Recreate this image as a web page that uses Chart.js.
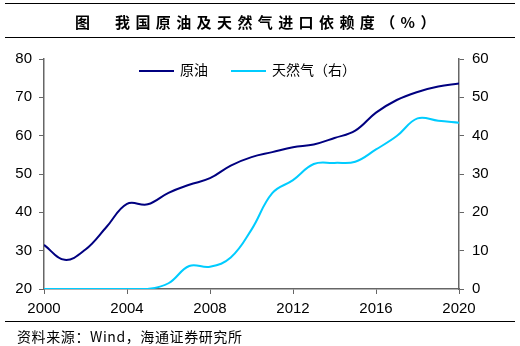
<!DOCTYPE html>
<html>
<head>
<meta charset="utf-8">
<script src="https://cdn.jsdelivr.net/npm/chart.js@4/dist/chart.umd.min.js"></script>
<style>
  body { margin: 0; background: #fff; }
  #wrap { position: relative; width: 520px; height: 346px; overflow: hidden; }
  #c { position: absolute; left: 0; top: 0; }
  .title {
    position: absolute; left: 5px; top: 3px; width: 510px; height: 33px;
    border-top: 1px solid #000; border-bottom: 1px solid #000;
    font: bold 15px "Noto Sans CJK SC", sans-serif; color: #000;
  }
  .title span { position: absolute; top: 7px; letter-spacing: 5.4px; white-space: nowrap; }
  .source {
    position: absolute; left: 5px; top: 321px; width: 510px; border-top: 1px solid #000;
  }
  .source span {
    position: absolute; left: 12px; top: 4px; white-space: nowrap;
    font: 14px "Noto Sans CJK SC", sans-serif; letter-spacing: 0.6px; color: #000;
  }
  .legend { position: absolute; top: 59px; font: 14px "Noto Sans CJK SC", sans-serif; white-space: nowrap; }
  .legend i { display: inline-block; width: 35px; height: 2px; vertical-align: middle; margin-right: 6px; }
</style>
</head>
<body>
<div id="wrap">
  <canvas id="c" width="520" height="346"></canvas>
  <div class="title"><span style="left:70px">图</span><span style="left:110px">我国原油及天然气进口依赖度（%）</span></div>
  <div class="legend" style="left:139px"><i style="background:#000080"></i>原油</div>
  <div class="legend" style="left:231px"><i style="background:#00ccff"></i>天然气（右）</div>
  <div class="source"><span>资料来源：Wind，海通证券研究所</span></div>
</div>
<script>
// 年份与数据
const years = [2000, 2001, 2002, 2003, 2004, 2005, 2006, 2007, 2008, 2009, 2010,
               2011, 2012, 2013, 2014, 2015, 2016, 2017, 2018, 2019, 2020];
const crudeOil = [31.5, 27.6, 30.3, 36.1, 42.2, 42.1, 45.1, 47.2, 48.9, 52.2, 54.4,
                  55.7, 57.0, 57.7, 59.4, 61.3, 66.0, 69.3, 71.4, 72.8, 73.6];
const naturalGas = [0, 0, 0, 0, 0, 0, 1.5, 6.0, 5.8, 8.2, 15.5,
                    25.0, 28.4, 32.6, 32.9, 33.2, 36.4, 39.9, 44.5, 43.9, 43.4];
const leftTicks = { min: 20, max: 80, step: 10 };
const rightTicks = { min: 0, max: 60, step: 10 };

const axisColor = '#666666';
const tickFont = { family: '"Liberation Sans", Arial, sans-serif', size: 15 };

new Chart(document.getElementById('c'), {
    type: 'line',
    data: {
        datasets: [
            {
                label: '原油',
                data: years.map((y, i) => ({ x: y, y: crudeOil[i] })),
                borderColor: '#000080',
                borderWidth: 2,
                pointRadius: 0,
                tension: 0.4,
                yAxisID: 'y'
            },
            {
                label: '天然气（右）',
                data: years.map((y, i) => ({ x: y, y: naturalGas[i] })),
                borderColor: '#00ccff',
                borderWidth: 2,
                pointRadius: 0,
                tension: 0.4,
                yAxisID: 'y2'
            }
        ]
    },
    options: {
        responsive: false,
        animation: false,
        layout: { padding: { top: 59, left: 0, right: 0, bottom: 0 } },
        plugins: { legend: { display: false }, tooltip: { enabled: false } },
        scales: {
            x: {
                type: 'linear',
                min: 2000,
                max: 2020,
                ticks: { stepSize: 4, color: '#000', font: tickFont, padding: 6, maxRotation: 0,
                         callback: v => String(v) },
                grid: { drawOnChartArea: false, tickLength: 5, color: axisColor },
                border: { color: axisColor, width: 1.5 },
                afterFit: s => { s.height = 346 - 289; }
            },
            y: {
                position: 'left',
                min: leftTicks.min,
                max: leftTicks.max,
                ticks: { stepSize: leftTicks.step, color: '#000', font: tickFont, padding: 7 },
                grid: { drawOnChartArea: false, tickLength: 5, color: axisColor },
                border: { color: axisColor, width: 1.5 },
                afterFit: s => { s.width = 44; }
            },
            y2: {
                position: 'right',
                min: rightTicks.min,
                max: rightTicks.max,
                ticks: { stepSize: rightTicks.step, color: '#000', font: tickFont, padding: 8 },
                grid: { drawOnChartArea: false, tickLength: 5, color: axisColor },
                border: { color: axisColor, width: 1.5 },
                afterFit: s => { s.width = 520 - 459; }
            }
        }
    }
});
</script>
</body>
</html>
